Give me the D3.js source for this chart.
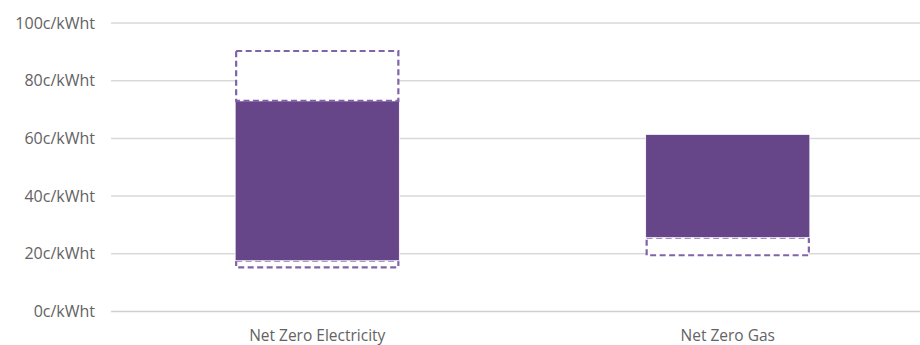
<!DOCTYPE html>
<html>
<head>
<meta charset="utf-8">
<script src="https://cdn.jsdelivr.net/npm/d3@7"></script>
<style>
  body { margin: 0; background: #fff; }
  text { font-family: "Open Sans", sans-serif; fill: #636363; }
</style>
</head>
<body>
<div id="main"></div>
<script>
// categories and stacked segments (c/kWht)
const categories = ["Net Zero Electricity", "Net Zero Gas"];
const baseValues = [15.3, 19.5];      // invisible offset
const lowRange = [2.3, 6.1];          // dashed lower uncertainty
const coreValues = [55.4, 35.8];      // solid bar
const highRange = [17.3, 0];          // dashed upper uncertainty
const yTicks = [0, 20, 40, 60, 80, 100];

const width = 920, height = 345;
const margin = { top: 23, right: -13, bottom: 33.5, left: 112 };

const svg = d3.select("#main").append("svg")
  .attr("width", width)
  .attr("height", height);

const x = d3.scaleBand()
  .domain(categories)
  .range([margin.left, width - margin.right])
  .paddingInner(0.6)
  .paddingOuter(0.3);

const y = d3.scaleLinear()
  .domain([0, 100])
  .range([height - margin.bottom, margin.top]);

// gridlines
svg.append("g").selectAll("line")
  .data(yTicks)
  .enter().append("line")
    .attr("x1", margin.left - 1)
    .attr("x2", width)
    .attr("y1", d => y(d))
    .attr("y2", d => y(d))
    .attr("stroke", d => d === 0 ? "#d0d0d0" : "#d9d9d9")
    .attr("stroke-width", 1.5);

// y labels
svg.append("g").selectAll("text")
  .data(yTicks)
  .enter().append("text")
    .attr("x", 95)
    .attr("y", d => y(d))
    .attr("dy", "0.35em")
    .attr("text-anchor", "end")
    .style("font-size", "16px")
    .text(d => d + "c/kWht");

// stacked data
const rows = categories.map((c, i) => ({
  cat: c, base: baseValues[i], low: lowRange[i], core: coreValues[i], high: highRange[i]
}));
const stack = d3.stack().keys(["base", "low", "core", "high"]);
const series = stack(rows);

const styles = {
  base: null,
  low: "dashed",
  core: "solid",
  high: "dashed"
};

series.forEach(s => {
  const kind = styles[s.key];
  if (!kind) return;
  const g = svg.append("g").attr("class", "seg-" + s.key);
  g.selectAll("rect")
    .data(s.filter(d => d[1] - d[0] > 0))
    .enter().append("rect")
      .attr("x", d => x(d.data.cat) + (kind === "dashed" ? 1 : 0))
      .attr("width", x.bandwidth() - (kind === "dashed" ? 2 : 0))
      .attr("y", d => y(d[1]))
      .attr("height", d => y(d[0]) - y(d[1]))
      .attr("fill", kind === "solid" ? "#664689" : "#ffffff")
      .attr("stroke", kind === "solid" ? "#ffffff" : "#8163a8")
      .attr("stroke-width", kind === "solid" ? 0.8 : 2.2)
      .attr("stroke-dasharray", kind === "dashed" ? "6,3.5" : null);
});

// x labels
svg.append("g").selectAll("text")
  .data(categories)
  .enter().append("text")
    .attr("x", d => x(d) + x.bandwidth() / 2)
    .attr("y", 341)
    .attr("text-anchor", "middle")
    .style("font-size", "15.5px")
    .text(d => d);
</script>
</body>
</html>
